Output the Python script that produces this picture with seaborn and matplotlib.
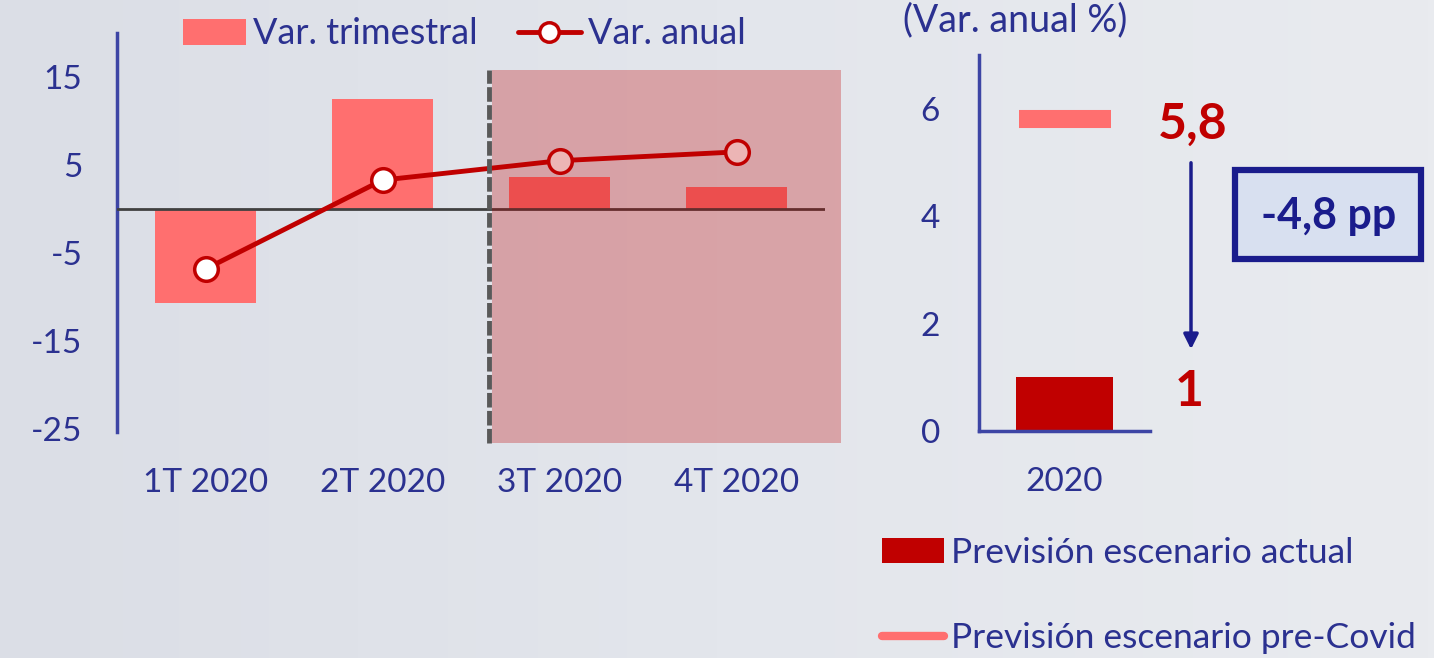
import numpy as np
import pandas as pd
import matplotlib
matplotlib.use("Agg")
import matplotlib.pyplot as plt
import seaborn as sns
from matplotlib.patches import Rectangle, Patch, FancyArrowPatch
from matplotlib.lines import Line2D
from matplotlib.colors import LinearSegmentedColormap

# ---------------- data ----------------
quarters = ["1T 2020", "2T 2020", "3T 2020", "4T 2020"]
var_trimestral = [-10.7, 12.5, 3.6, 2.5]
var_anual = [-6.8, 3.3, 5.5, 6.5]
left_yticks = [-25, -15, -5, 5, 15]

year_label = ["2020"]
prevision_actual = [1.0]
prevision_precovid = [5.8]
right_yticks = [0, 2, 4, 6]
diff_label = "-4,8 pp"

# ---------------- style ----------------
sns.set_theme(style="white")
plt.rcParams["font.family"] = ["Lato", "DejaVu Sans"]
plt.rcParams["axes.unicode_minus"] = False

NAVY = "#2B3190"
SPINE = "#3D45A5"
SALMON = "#FF6F6F"
DARKRED = "#C00000"
BOXNAVY = "#1A1C8C"

fig = plt.figure(figsize=(14.34, 6.58), dpi=100)
fig.patch.set_facecolor("#E1E4EA")

# background gradient
bg = fig.add_axes([0, 0, 1, 1], zorder=-10)
grad = np.linspace(0, 1, 256).reshape(1, -1)
cmap = LinearSegmentedColormap.from_list("bg", ["#DBDEE6", "#E3E6EC", "#E9EBEF"])
bg.imshow(grad, aspect="auto", cmap=cmap, extent=[0, 1, 0, 1])
bg.set_axis_off()

# ---------------- left chart ----------------
ax1 = fig.add_axes([117 / 1434, 1 - 432 / 658, 708 / 1434, 399 / 658])
ax1.set_facecolor("none")
df1 = pd.DataFrame({"q": quarters, "t": var_trimestral, "a": var_anual})
sns.barplot(data=df1, x="q", y="t", color=SALMON, saturation=1, width=0.57,
            linewidth=0, ax=ax1, zorder=2)
ax1.axhline(0, color="#404040", lw=2, zorder=3)
sns.pointplot(data=df1, x="q", y="a", color=DARKRED, ax=ax1,
              markers="o", linestyles="-", linewidth=3.5,
              markersize=17, markerfacecolor="white",
              markeredgewidth=2.5, markeredgecolor=DARKRED, zorder=4)

ax1.set_xlim(-0.5, 3.5)
ax1.set_ylim(-25.3, 20)
ax1.set_yticks(left_yticks)
ax1.set_xlabel("")
ax1.set_ylabel("")
for s in ["top", "right", "bottom"]:
    ax1.spines[s].set_visible(False)
ax1.spines["left"].set_color(SPINE)
ax1.spines["left"].set_linewidth(2.5)
ax1.tick_params(axis="y", length=0, pad=25, labelsize=24, labelcolor=NAVY)
ax1.tick_params(axis="x", length=0, pad=26, labelsize=24, labelcolor=NAVY)

# forecast region
forecast_start = 1.6
shade_x0, shade_x1 = 1.62, 3.59
shade_y0, shade_y1 = -26.6, 15.8
ax1.plot([forecast_start, forecast_start], [shade_y0, shade_y1],
         color="#595959", lw=3.5, ls=(0, (3, 0.7)), clip_on=False, zorder=6)
ax1.add_patch(Rectangle((shade_x0, shade_y0), shade_x1 - shade_x0,
                        shade_y1 - shade_y0, facecolor=DARKRED, alpha=0.29,
                        lw=0, clip_on=False, zorder=5))

# left legend
h1 = [Patch(facecolor=SALMON, edgecolor="none"),
      Line2D([0], [0], color=DARKRED, lw=3.5, marker="o", markersize=14,
             markerfacecolor="white", markeredgewidth=2.5)]
fig.legend(h1, ["Var. trimestral", "Var. anual"], ncol=2, frameon=False,
           loc="center left", bbox_to_anchor=(183 / 1434, 1 - 34 / 658),
           borderaxespad=0, borderpad=0, fontsize=26, labelcolor=NAVY,
           handlelength=1.75, handletextpad=0.2, columnspacing=1.1)

# ---------------- right chart ----------------
ax2 = fig.add_axes([979 / 1434, 1 - 431 / 658, 171 / 1434, 376 / 658])
ax2.set_facecolor("none")
df2 = pd.DataFrame({"y": year_label, "act": prevision_actual,
                    "pre": prevision_precovid})
sns.barplot(data=df2, x="y", y="act", color=DARKRED, saturation=1,
            width=0.57, linewidth=0, ax=ax2, zorder=2)
sns.pointplot(data=df2, x="y", y="pre", color=SALMON, ax=ax2,
              markers="_", markersize=66, markeredgewidth=13,
              linestyles="none", zorder=3)
ax2.set_xlim(-0.5, 0.5)
ax2.set_ylim(0, 7)
ax2.set_yticks(right_yticks)
ax2.set_xlabel("")
ax2.set_ylabel("")
for s in ["top", "right"]:
    ax2.spines[s].set_visible(False)
for s in ["left", "bottom"]:
    ax2.spines[s].set_color(SPINE)
    ax2.spines[s].set_linewidth(2.5)
ax2.tick_params(axis="y", length=0, pad=28, labelsize=24, labelcolor=NAVY)
ax2.tick_params(axis="x", length=0, pad=26, labelsize=24, labelcolor=NAVY)

fig.text(1015 / 1434, 1 - 2 / 658, "(Var. anual %)", ha="center", va="top",
         fontsize=27, color=NAVY)

# value labels
fig.text(1193 / 1434, 1 - 124 / 658, f"{prevision_precovid[0]:.1f}".replace(".", ","),
         ha="center", va="center", fontsize=36, fontweight="bold", color=DARKRED)
fig.text(1189 / 1434, 1 - 392 / 658, f"{prevision_actual[0]:g}",
         ha="center", va="center", fontsize=36, fontweight="bold", color=DARKRED)

# arrow
fig.patches.append(FancyArrowPatch(
    (1191 / 1434, 1 - 160 / 658), (1191 / 1434, 1 - 352 / 658),
    transform=fig.transFigure, arrowstyle="-|>", mutation_scale=22,
    color=BOXNAVY, lw=2.5))

# difference box
fig.patches.append(Rectangle((1235 / 1434, 1 - 259 / 658), 186 / 1434, 89 / 658,
                             transform=fig.transFigure, facecolor="#D8E0F0",
                             edgecolor=BOXNAVY, lw=4.5))
fig.text(1329 / 1434, 1 - 216 / 658, diff_label, ha="center", va="center",
         fontsize=31, fontweight="bold", color=BOXNAVY)

# right legend
h2 = [Patch(facecolor=DARKRED, edgecolor="none"),
      Line2D([0], [0], color=SALMON, lw=6)]
fig.legend(h2, ["Previsión escenario actual", "Previsión escenario pre-Covid"],
           frameon=False, loc="upper left",
           bbox_to_anchor=(882 / 1434, 1 - 537 / 658),
           borderaxespad=0, borderpad=0, fontsize=25.5, labelcolor=NAVY,
           handlelength=1.75, handletextpad=0.2, labelspacing=1.5)

fig.savefig("out.png", dpi=100, facecolor=fig.get_facecolor())
